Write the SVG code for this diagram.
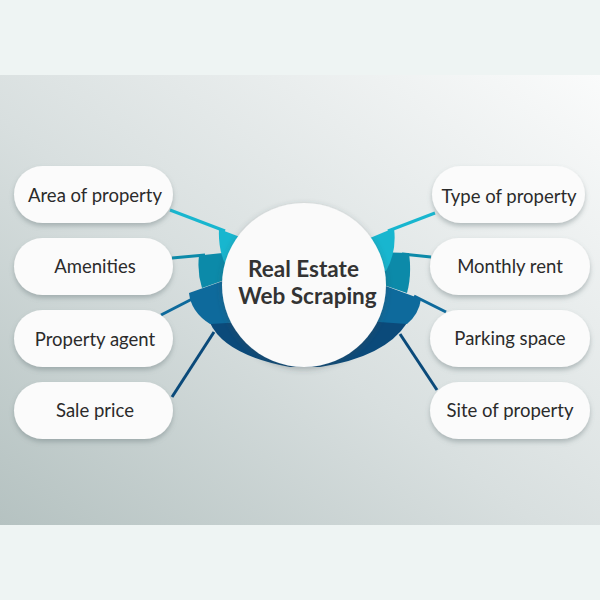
<svg xmlns="http://www.w3.org/2000/svg" width="600" height="600" viewBox="0 0 600 600">
  <defs>
    <linearGradient id="bg" x1="0" y1="1" x2="1" y2="0">
      <stop offset="0" stop-color="#b5c2c1"/>
      <stop offset="0.45" stop-color="#d8dfdf"/>
      <stop offset="1" stop-color="#fafbfb"/>
    </linearGradient>
    <filter id="sh" x="-20%" y="-30%" width="140%" height="170%">
      <feDropShadow dx="0" dy="3" stdDeviation="2.5" flood-color="#6f7f80" flood-opacity="0.45"/>
    </filter>
    <filter id="csh" x="-20%" y="-20%" width="140%" height="140%">
      <feDropShadow dx="0" dy="2" stdDeviation="3" flood-color="#3d4a50" flood-opacity="0.35"/>
    </filter>
  </defs>
  <style>
    .pill { fill: #fbfbfb; filter: url(#sh); }
    .lbl { font-family: Lato, "Open Sans", sans-serif; font-size: 18.5px; fill: #2b2b2b; text-anchor: middle; }
    .ttl { font-family: Lato, "Open Sans", sans-serif; font-size: 22.5px; font-weight: 700; fill: #333333; text-anchor: middle; }
    .c1 { stroke: #18b6cf; } .c2 { stroke: #0c8aa9; } .c3 { stroke: #0e6a9c; } .c4 { stroke: #0b4a7a; }
    .f1 { fill: #18b6cf; } .f2 { fill: #0c8aa9; } .f3 { fill: #0e6a9c; } .f4 { fill: #0b4a7a; }
    .cn line { stroke-width: 3; stroke-linecap: butt; }
  </style>
  <rect x="0" y="0" width="600" height="600" fill="#eef4f3"/>
  <rect x="0" y="75" width="600" height="450" fill="url(#bg)"/>

  <g id="connectors" class="cn">
    <line class="c1" x1="170" y1="210" x2="225" y2="231"/>
    <line class="c2" x1="172" y1="258" x2="205" y2="255"/>
    <line class="c3" x1="161" y1="315" x2="196" y2="297"/>
    <line class="c4" x1="172" y1="397" x2="214" y2="332"/>
    <line class="c1" x1="435" y1="213" x2="388" y2="231"/>
    <line class="c2" x1="431" y1="257" x2="402" y2="254"/>
    <line class="c3" x1="446" y1="312" x2="414" y2="296"/>
    <line class="c4" x1="437" y1="390" x2="400" y2="334"/>
  </g>

  <g id="fan">
    <path class="f4" d="M 245,322 L 210,323 Q 225,355 290,367 L 320,367 Q 385,357 407,323 L 365,320 Z"/>
    <path class="f3" d="M 240,275 L 189,293 Q 191,312 210,324 L 245,322 Z"/>
    <path class="f3" d="M 372,281 L 421,299 Q 419,314 407,324 L 365,321 Z"/>
    <path class="f2" d="M 232,252 L 199,255.5 Q 197,272 202,288 L 240,274.5 Z"/>
    <path class="f2" d="M 375,252 L 409,253 Q 412,275 407,293 L 372,281 Z"/>
    <path class="f1" d="M 240,237 L 219,229 Q 218,250 226,266 L 242,266 Z"/>
    <path class="f1" d="M 370,238 L 394,228 Q 397,252 386,271 L 368,271 Z"/>
  </g>

  <g id="center">
    <circle cx="304" cy="285" r="82" fill="#fafafa" filter="url(#csh)"/>
    <text class="ttl" x="303.5" y="277">Real Estate</text>
    <text class="ttl" x="307.5" y="304">Web Scraping</text>
  </g>

  <g id="n-area"><rect class="pill" x="14" y="166" width="159" height="57" rx="28.5"/><text class="lbl" x="95" y="202">Area of property</text></g>
  <g id="n-amenities"><rect class="pill" x="14" y="238" width="159" height="57" rx="28.5"/><text class="lbl" x="95" y="273">Amenities</text></g>
  <g id="n-agent"><rect class="pill" x="14" y="310" width="159" height="57" rx="28.5"/><text class="lbl" x="95" y="346">Property agent</text></g>
  <g id="n-sale"><rect class="pill" x="14" y="382" width="159" height="57" rx="28.5"/><text class="lbl" x="95" y="417">Sale price</text></g>

  <g id="n-type"><rect class="pill" x="432" y="166" width="153" height="57" rx="28.5"/><text class="lbl" x="509" y="203">Type of property</text></g>
  <g id="n-rent"><rect class="pill" x="430" y="238" width="160" height="57" rx="28.5"/><text class="lbl" x="510" y="273">Monthly rent</text></g>
  <g id="n-parking"><rect class="pill" x="430" y="310" width="160" height="57" rx="28.5"/><text class="lbl" x="510" y="345">Parking space</text></g>
  <g id="n-site"><rect class="pill" x="430" y="382" width="160" height="57" rx="28.5"/><text class="lbl" x="510" y="417">Site of property</text></g>
</svg>
